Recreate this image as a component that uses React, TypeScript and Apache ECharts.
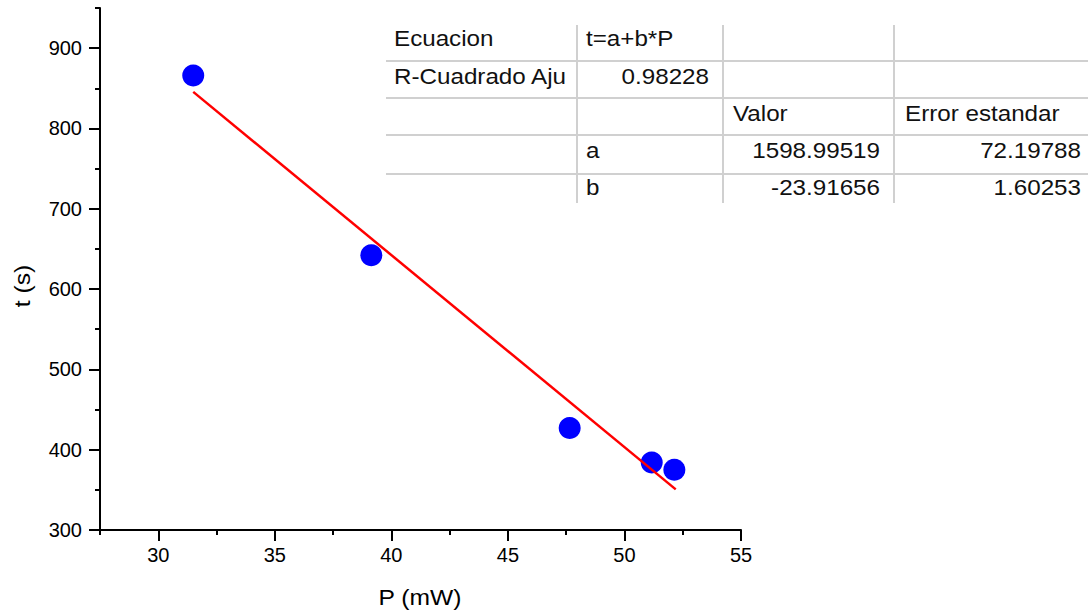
import React, { useEffect, useRef } from "react";
import * as echarts from "echarts";

const pointsP = [31.5, 39.14, 47.65, 51.17, 52.14];
const pointsT = [866, 642, 427, 384, 375];
const fitLine = [
  [31.5, 845.6],
  [52.2, 350.6],
];
const xMajor = [30, 35, 40, 45, 50, 55];
const xMinor = [27.5, 32.5, 37.5, 42.5, 47.5, 52.5];
const yMajor = [300, 400, 500, 600, 700, 800, 900];
const yMinor = [350, 450, 550, 650, 750, 850, 950];

const tableRows = [
  ["Ecuacion", "t=a+b*P", "", ""],
  ["R-Cuadrado Aju", "0.98228", "", ""],
  ["", "", "Valor", "Error estandar"],
  ["", "a", "1598.99519", "72.19788"],
  ["", "b", "-23.91656", "1.60253"],
];

const FONT = "'Liberation Sans', Arial, sans-serif";

export default function App() {
  const ref = useRef<HTMLDivElement>(null);
  useEffect(() => {
    document.body.style.margin = "0";
    const chart = echarts.init(ref.current!, null, { renderer: "svg" });

    const colLeft = [394, 586, 733, 905];
    const colRight = [0, 709, 880, 1081];
    const rowY = [38, 76, 113, 150.5, 187];
    const isNum = (s: string) => /^-?[0-9.]+$/.test(s);
    const tableTexts: any[] = [];
    tableRows.forEach((row, r) => {
      row.forEach((cell, c) => {
        if (!cell) return;
        const num = isNum(cell);
        tableTexts.push({
          type: "text",
          x: num ? colRight[c] : colLeft[c],
          y: rowY[r],
          scaleX: 1.1,
          style: {
            text: cell,
            fontSize: 22,
            fontFamily: FONT,
            fill: "#111",
            align: num ? "right" : "left",
            verticalAlign: "middle",
          },
        });
      });
    });
    const lineStyle = { stroke: "#d0d0d0", lineWidth: 2 };
    const hLines = [61, 98, 135, 174].map((y) => ({
      type: "line",
      shape: { x1: 386, y1: y, x2: 1088, y2: y },
      style: lineStyle,
    }));
    const vLines = [577, 723, 894].map((x) => ({
      type: "line",
      shape: { x1: x, y1: 25, x2: x, y2: 203 },
      style: lineStyle,
    }));

    const axisText = { color: "#000", fontSize: 20, fontFamily: FONT };

    chart.setOption({
      animation: false,
      backgroundColor: "#fff",
      grid: { left: 100, top: 8, right: 347, bottom: 82, containLabel: false },
      xAxis: [
        {
          type: "value",
          min: 27.5,
          max: 55,
          axisLine: { show: true, lineStyle: { color: "#000", width: 2 } },
          axisTick: {
            show: true,
            length: 11,
            lineStyle: { color: "#000", width: 2 },
            customValues: xMajor,
          },
          axisLabel: { ...axisText, margin: 15, customValues: xMajor },
          splitLine: { show: false },
        },
        {
          type: "value",
          min: 27.5,
          max: 55,
          position: "bottom",
          axisLine: { show: false },
          axisTick: {
            show: true,
            length: 5,
            lineStyle: { color: "#000", width: 2 },
            customValues: xMinor,
          },
          axisLabel: { show: false },
          splitLine: { show: false },
        },
      ],
      yAxis: [
        {
          type: "value",
          min: 300,
          max: 950,
          axisLine: { show: true, lineStyle: { color: "#000", width: 2 } },
          axisTick: {
            show: true,
            length: 11,
            lineStyle: { color: "#000", width: 2 },
            customValues: yMajor,
          },
          axisLabel: { ...axisText, margin: 18, customValues: yMajor },
          splitLine: { show: false },
        },
        {
          type: "value",
          min: 300,
          max: 950,
          position: "left",
          axisLine: { show: false },
          axisTick: {
            show: true,
            length: 5,
            lineStyle: { color: "#000", width: 2 },
            customValues: yMinor,
          },
          axisLabel: { show: false },
          splitLine: { show: false },
        },
      ],
      series: [
        {
          type: "line",
          data: fitLine,
          symbol: "none",
          lineStyle: { color: "#ff0000", width: 2.5 },
          z: 3,
        },
        {
          type: "scatter",
          data: pointsP.map((p, i) => [p, pointsT[i]]),
          symbol: "circle",
          symbolSize: 22,
          itemStyle: { color: "#0000ff", opacity: 1 },
          z: 2,
        },
      ],
      graphic: [
        ...hLines,
        ...vLines,
        ...tableTexts,
        {
          type: "text",
          x: 420,
          y: 597,
          scaleX: 1.12,
          style: {
            text: "P (mW)",
            fontSize: 22,
            fontFamily: FONT,
            fill: "#000",
            align: "center",
            verticalAlign: "middle",
          },
        },
        {
          type: "text",
          x: 22,
          y: 286,
          rotation: Math.PI / 2,
          scaleX: 1.12,
          style: {
            text: "t (s)",
            fontSize: 22,
            fontFamily: FONT,
            fill: "#000",
            align: "center",
            verticalAlign: "middle",
          },
        },
      ],
    });
    return () => chart.dispose();
  }, []);
  return <div ref={ref} style={{ width: 1088, height: 612 }} />;
}
